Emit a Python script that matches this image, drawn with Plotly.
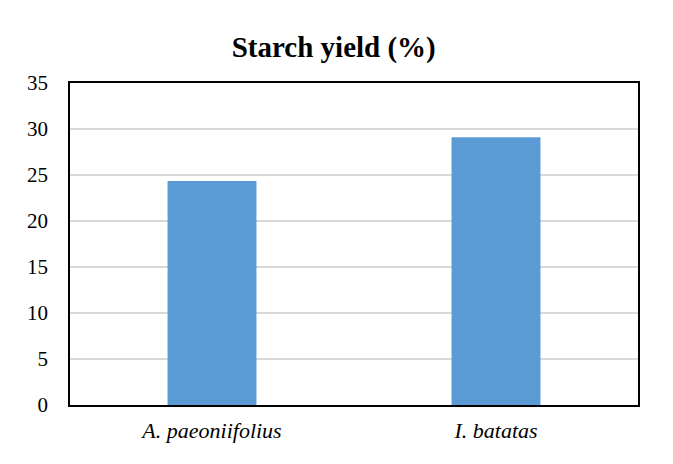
import plotly.graph_objects as go

species = ["A. paeoniifolius", "I. batatas"]
starch_yield = [24.35, 29.1]
y_ticks = [0, 5, 10, 15, 20, 25, 30, 35]

SERIF = "Liberation Serif"

fig = go.Figure()
fig.add_trace(go.Bar(
    x=[f"<i>{s}</i>" for s in species],
    y=starch_yield,
    marker=dict(color="#5B9BD5", line=dict(width=0)),
    width=0.313,
    hovertemplate="%{x}<br>%{y:.2f}%<extra></extra>",
))

fig.update_layout(
    width=673, height=464,
    title=dict(text="<b>Starch yield (%)</b>", x=0.484, xanchor="center",
               y=0.916, yanchor="middle",
               font=dict(family=SERIF, size=29, color="black")),
    paper_bgcolor="white",
    plot_bgcolor="white",
    font=dict(family=SERIF, size=21, color="black"),
    margin=dict(l=62, r=43, t=75, b=67),
    showlegend=False,
)
fig.update_xaxes(
    showline=True, linecolor="black", linewidth=1.8, mirror=True,
    ticks="", showgrid=False, ticklabelstandoff=5,
    tickfont=dict(family=SERIF, size=22),
)
fig.update_yaxes(
    range=[0, 35], tickvals=y_ticks,
    showline=True, linecolor="black", linewidth=1.8, mirror=True,
    showgrid=True, gridcolor="#D9D9D9", gridwidth=1.5,
    zeroline=False, ticks="", ticklabelstandoff=16,
    tickfont=dict(family=SERIF, size=21),
)

fig.write_html("out.html")
